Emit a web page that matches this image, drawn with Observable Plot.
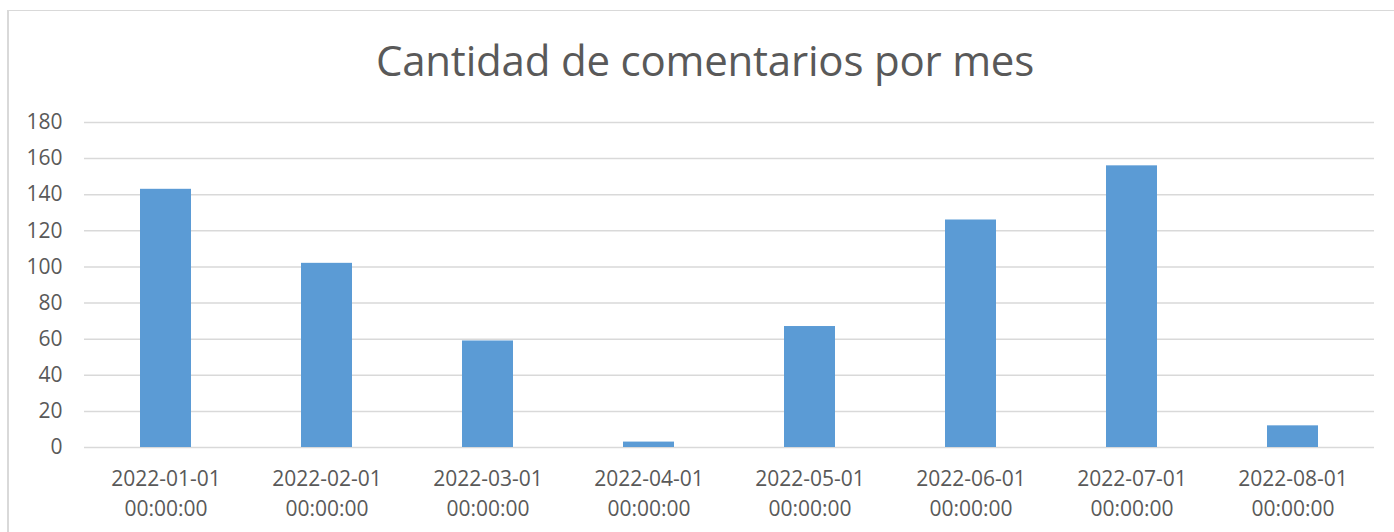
<!DOCTYPE html>
<html>
<head>
<meta charset="utf-8">
<script src="https://cdn.jsdelivr.net/npm/d3@7"></script>
<script src="https://cdn.jsdelivr.net/npm/@observablehq/plot@0.6"></script>
<style>
  html, body { margin: 0; padding: 0; background: #fff; }
  body { width: 1394px; height: 532px; overflow: hidden; position: relative; font-family: "Open Sans", sans-serif; }
  #frame { position: absolute; left: 7px; top: 10px; width: 1400px; height: 540px; border-left: 2px solid #d9d9d9; border-top: 1px solid #d9d9d9; box-sizing: border-box; }
  #title { position: absolute; top: 0; left: 8px; width: 1394px; height: 100px; text-align: center; padding-top: 22px; box-sizing: border-box; line-height: 76px; font-size: 42px; color: #595959; font-family: "Open Sans", sans-serif; letter-spacing: -0.2px; }
  #chart { position: absolute; left: 0; top: 100px; }
</style>
</head>
<body>
<div id="frame"></div>
<div id="title">Cantidad de comentarios por mes</div>
<div id="chart"></div>
<script>
const months = ["2022-01-01 00:00:00", "2022-02-01 00:00:00", "2022-03-01 00:00:00", "2022-04-01 00:00:00",
                "2022-05-01 00:00:00", "2022-06-01 00:00:00", "2022-07-01 00:00:00", "2022-08-01 00:00:00"];
const counts = [143, 102, 59, 3, 67, 126, 156, 12];
const yTicks = [0, 20, 40, 60, 80, 100, 120, 140, 160, 180];

const data = months.map((m, i) => ({month: m, count: counts[i]}));

const chart = Plot.plot({
  width: 1394,
  height: 432,
  marginLeft: 84,
  marginRight: 20,
  marginTop: 22,
  marginBottom: 85,
  style: {fontFamily: "'Open Sans', sans-serif", color: "#595959", background: "transparent", overflow: "visible"},
  x: {domain: months, paddingInner: 0.684, paddingOuter: 0.342, label: null},
  y: {domain: [0, 180], label: null},
  marks: [
    Plot.gridY(yTicks, {stroke: "#d9d9d9", strokeOpacity: 1, strokeWidth: 1.5}),
    Plot.barY(data, {x: "month", y: "count", fill: "#5b9bd5"}),
    Plot.axisY(yTicks, {tickSize: 0, tickPadding: 22, fontSize: 21, fill: "#595959", label: null}),
    Plot.axisX({tickSize: 0, tickPadding: 17, fontSize: 21, fill: "#595959", lineHeight: 1.43,
                tickFormat: d => d.replace(" ", "\n"), label: null})
  ]
});
document.getElementById("chart").appendChild(chart);
</script>
</body>
</html>
